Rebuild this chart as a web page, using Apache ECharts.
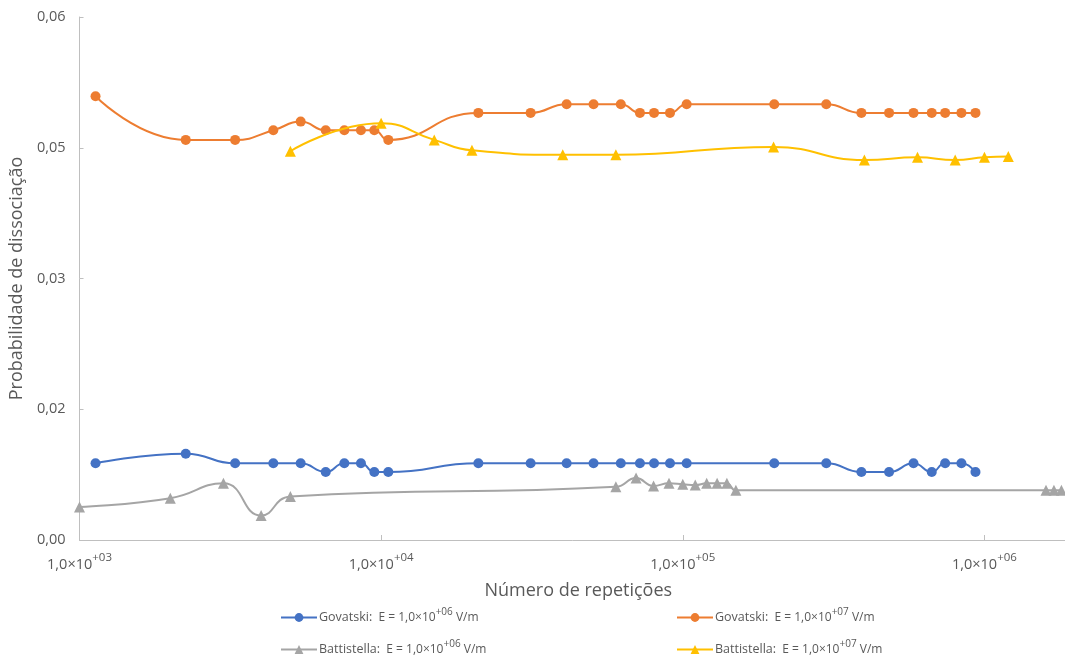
<!DOCTYPE html>
<html>
<head>
<meta charset="utf-8">
<script src="https://cdn.jsdelivr.net/npm/echarts@6/dist/echarts.min.js"></script>
<style>
  html, body { margin: 0; padding: 0; background: #ffffff; }
  #chart { width: 1065px; height: 659px; }
</style>
</head>
<body>
<div id="chart"></div>
<script>
// Número de repetições (x) for each series
const govatskiReps = [1130, 2250, 3280, 4390, 5410, 6550, 7550, 8570, 9490, 10560,
  21000, 31300, 41200, 50600, 62300, 72100, 80300, 90700, 103000,
  201000, 299000, 391000, 483000, 582000, 669000, 741000, 839000, 934000];
const battistellaE6Reps = [1000, 2000, 3000, 4000, 5000, 60000, 70000, 80000, 90000,
  100000, 110000, 120000, 130000, 140000, 150000, 1600000, 1700000, 1800000];
const battistellaE7Reps = [5000, 10000, 15000, 20000, 40000, 60000, 200000,
  400000, 600000, 800000, 1000000, 1200000];

// Probabilidade de dissociação (y)
const govatskiE6 = [0.0088, 0.0099, 0.0088, 0.0088, 0.0088, 0.0078, 0.0088, 0.0088, 0.0078, 0.0078,
  0.0088, 0.0088, 0.0088, 0.0088, 0.0088, 0.0088, 0.0088, 0.0088, 0.0088,
  0.0088, 0.0088, 0.0078, 0.0078, 0.0088, 0.0078, 0.0088, 0.0088, 0.0078];
const govatskiE7 = [0.0509, 0.0459, 0.0459, 0.0470, 0.0480, 0.0470, 0.0470, 0.0470, 0.0470, 0.0459,
  0.0490, 0.0490, 0.0500, 0.0500, 0.0500, 0.0490, 0.0490, 0.0490, 0.0500,
  0.0500, 0.0500, 0.0490, 0.0490, 0.0490, 0.0490, 0.0490, 0.0490, 0.0490];
const battistellaE6 = [0.0038, 0.0048, 0.0065, 0.0028, 0.0050, 0.0061, 0.0071, 0.0062, 0.0065,
  0.0064, 0.0063, 0.0065, 0.0065, 0.0065, 0.0057, 0.0057, 0.0057, 0.0057];
const battistellaE7 = [0.0446, 0.0478, 0.0459, 0.0447, 0.0442, 0.0442, 0.0451,
  0.0436, 0.0439, 0.0436, 0.0439, 0.0440];

// Axis ticks
const xTicks = [1e3, 1e4, 1e5, 1e6];
const xMin = 1e3, xMax = 1.85e6;
const yMin = 0, yMax = 0.06, yStep = 0.015;

// Series names and field exponents
const seriesNames = ['Govatski E6', 'Govatski E7', 'Battistella E6', 'Battistella E7'];
const seriesAuthors = ['Govatski:', 'Govatski:', 'Battistella:', 'Battistella:'];
const fieldExp = ['+06', '+07', '+06', '+07'];

const textColor = '#595959';
const font = "'Open Sans', 'Noto Sans', sans-serif";
const narrow = "'Liberation Sans Narrow', 'Open Sans', sans-serif";
const colors = ['#4472C4', '#ED7D31', '#A5A5A5', '#FFC000'];
const symbols = ['circle', 'circle', 'triangle', 'triangle'];
const xs = [govatskiReps, govatskiReps, battistellaE6Reps, battistellaE7Reps];
const ys = [govatskiE6, govatskiE7, battistellaE6, battistellaE7];

function pairs(x, y) { return x.map((v, i) => [v, y[i]]); }

const chart = echarts.init(document.getElementById('chart'), null, { renderer: 'canvas' });

const series = seriesNames.map((name, i) => ({
  name,
  type: 'line',
  data: pairs(xs[i], ys[i]),
  smooth: 0.5,
  symbol: symbols[i],
  symbolSize: symbols[i] === 'circle' ? 10 : 11,
  lineStyle: { color: colors[i], width: 2 },
  itemStyle: { color: colors[i] },
  emphasis: { disabled: true },
  clip: true,
  z: 2 + i
}));

const legendPos = [[280, 607], [676, 607], [280, 639], [676, 639]];
const legends = seriesNames.map((name, i) => ({
  data: [name],
  left: legendPos[i][0],
  top: legendPos[i][1],
  padding: 0,
  itemWidth: 36,
  itemHeight: 11,
  itemGap: 0,
  selectedMode: false,
  formatter: () => '{n|' + seriesAuthors[i] + '}  {m|E = 1,0×10}{e|' + fieldExp[i] + '}{m| V/m}',
  textStyle: {
    color: textColor,
    fontFamily: font,
    padding: [0, 0, 0, -3],
    rich: {
      n: { fontSize: 12.5, fontFamily: font, color: textColor, verticalAlign: 'middle' },
      m: { fontSize: 12, fontFamily: narrow, color: textColor, verticalAlign: 'middle' },
      e: { fontSize: 10, fontFamily: narrow, color: textColor, verticalAlign: 'top', padding: [0, 0, 11, 0] }
    }
  }
}));

chart.setOption({
  backgroundColor: '#ffffff',
  animation: false,
  textStyle: { fontFamily: font },
  grid: { left: 78, right: 0, top: 17, bottom: 119, containLabel: false },
  legend: legends,
  xAxis: {
    type: 'log',
    logBase: 10,
    min: xMin,
    max: xMax,
    name: 'Número de repetições',
    nameLocation: 'middle',
    nameGap: 42,
    nameTextStyle: { color: textColor, fontSize: 18, fontFamily: font, padding: [0, 0, 0, 12] },
    axisLine: { show: true, lineStyle: { color: '#BFBFBF', width: 1 } },
    axisTick: { show: true, inside: true, length: 5, lineStyle: { color: '#BFBFBF' }, customValues: xTicks },
    splitLine: { show: false },
    minorTick: { show: false },
    axisLabel: {
      customValues: xTicks,
      margin: 12,
      color: textColor,
      formatter: (v) => {
        const p = Math.round(Math.log10(v));
        return '{m|1,0×10}{e|+' + String(p).padStart(2, '0') + '}';
      },
      rich: {
        m: { fontSize: 14.5, fontFamily: font, color: textColor, verticalAlign: 'middle' },
        e: { fontSize: 11.5, fontFamily: font, color: textColor, verticalAlign: 'top', padding: [0, 0, 14, 0] }
      }
    }
  },
  yAxis: {
    type: 'value',
    min: yMin,
    max: yMax,
    interval: yStep,
    name: 'Probabilidade de dissociação',
    nameLocation: 'middle',
    nameGap: 49,
    nameTextStyle: { color: textColor, fontSize: 18, fontFamily: font },
    axisLine: { show: true, lineStyle: { color: '#BFBFBF', width: 1 } },
    axisTick: { show: true, inside: true, length: 4, lineStyle: { color: '#BFBFBF' } },
    splitLine: { show: false },
    axisLabel: {
      margin: 14,
      color: textColor,
      fontSize: 14.5,
      fontFamily: font,
      formatter: (v) => (Math.round(v * 100 + 1e-9) / 100).toFixed(2).replace('.', ',')
    }
  },
  series
});
</script>
</body>
</html>
